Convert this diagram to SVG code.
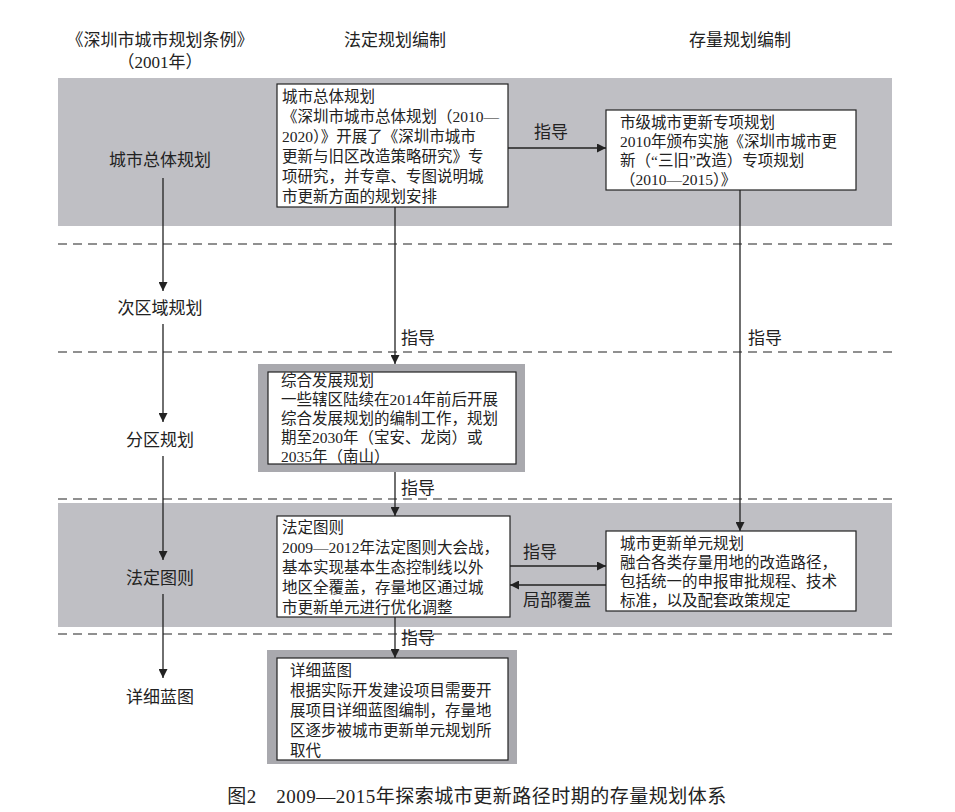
<svg xmlns="http://www.w3.org/2000/svg" width="955" height="812" viewBox="0 0 955 812">
<style>
text{font-family:"Liberation Serif","Noto Sans CJK SC",serif;fill:#222;font-size:15.5px}
.h{font-size:17px;text-anchor:middle}
.l{font-size:17px;text-anchor:middle}
.box{fill:#fff;stroke:#222;stroke-width:1.2}
.band{fill:#bfbfc4}
.dash{stroke:#222;stroke-width:1.2;stroke-dasharray:9,6}
.c{stroke:#222;stroke-width:1.3;fill:none;marker-end:url(#a)}
</style>
<defs><marker id="a" viewBox="0 0 10 10" refX="10" refY="5" markerWidth="9" markerHeight="9" orient="auto" markerUnits="userSpaceOnUse"><path d="M0,0L10,5L0,10z" fill="#222"/></marker></defs>
<rect width="955" height="812" fill="#fff"/>
<rect class="band" x="58" y="78" width="834" height="148"/>
<rect class="band" x="58" y="503" width="834" height="124"/>
<g>
<line class="dash" x1="58" y1="244" x2="892" y2="244"/>
<line class="dash" x1="58" y1="352" x2="892" y2="352"/>
<line class="dash" x1="58" y1="499" x2="892" y2="499"/>
<line class="dash" x1="58" y1="634" x2="892" y2="634"/>
</g>
<g id="headers">
<text class="h" x="160" y="46">《深圳市城市规划条例》</text>
<text class="h" x="160" y="68">（2001年）</text>
<text class="h" x="395" y="46">法定规划编制</text>
<text class="h" x="740" y="46">存量规划编制</text>
</g>
<g id="levels">
<text class="h" x="160" y="166">城市总体规划</text>
<text class="h" x="160" y="314">次区域规划</text>
<text class="h" x="160" y="446">分区规划</text>
<text class="h" x="160" y="584">法定图则</text>
<text class="h" x="160" y="703">详细蓝图</text>
</g>
<g id="box1"><rect class="box" x="277" y="84" width="231" height="123"/>
<text x="282" y="102">城市总体规划</text>
<text x="282" y="122">《深圳市城市总体规划（2010—</text>
<text x="282" y="142">2020）》开展了《深圳市城市</text>
<text x="282" y="162">更新与旧区改造策略研究》专</text>
<text x="282" y="182">项研究，并专章、专图说明城</text>
<text x="282" y="202">市更新方面的规划安排</text></g>
<g id="box2"><rect class="box" x="606" y="110" width="250" height="80"/>
<text x="620" y="128">市级城市更新专项规划</text>
<text x="620" y="147">2010年颁布实施《深圳市城市更</text>
<text x="620" y="166">新（“三旧”改造）专项规划</text>
<text x="620" y="185">（2010—2015）》</text></g>
<g id="box3"><rect x="258" y="364" width="267" height="108" fill="#a9a9ae"/><rect class="box" x="268" y="372" width="248" height="92"/>
<text x="281" y="386">综合发展规划</text>
<text x="281" y="405">一些辖区陆续在2014年前后开展</text>
<text x="281" y="424">综合发展规划的编制工作，规划</text>
<text x="281" y="443">期至2030年（宝安、龙岗）或</text>
<text x="281" y="462">2035年（南山）</text></g>
<g id="box4"><rect class="box" x="277" y="516" width="233" height="101"/>
<text x="282" y="533">法定图则</text>
<text x="282" y="553">2009—2012年法定图则大会战，</text>
<text x="282" y="573">基本实现基本生态控制线以外</text>
<text x="282" y="593">地区全覆盖，存量地区通过城</text>
<text x="282" y="613">市更新单元进行优化调整</text></g>
<g id="box5"><rect class="box" x="606" y="531" width="250" height="80"/>
<text x="620" y="549">城市更新单元规划</text>
<text x="620" y="568">融合各类存量用地的改造路径，</text>
<text x="620" y="587">包括统一的申报审批规程、技术</text>
<text x="620" y="606">标准，以及配套政策规定</text></g>
<g id="box6"><rect x="267" y="650" width="250" height="114" fill="#a9a9ae"/><rect class="box" x="277" y="658" width="231" height="102"/>
<text x="290" y="676">详细蓝图</text>
<text x="290" y="696">根据实际开发建设项目需要开</text>
<text x="290" y="716">展项目详细蓝图编制，存量地</text>
<text x="290" y="736">区逐步被城市更新单元规划所</text>
<text x="290" y="756">取代</text></g>
<g id="connectors">
<line class="c" x1="163" y1="178" x2="163" y2="291"/>
<line class="c" x1="163" y1="324" x2="163" y2="422"/>
<line class="c" x1="163" y1="456" x2="163" y2="560"/>
<line class="c" x1="163" y1="594" x2="163" y2="678"/>
<line class="c" x1="508" y1="148" x2="606" y2="148"/>
<line class="c" x1="395" y1="207" x2="395" y2="364"/>
<line class="c" x1="740" y1="190" x2="740" y2="531"/>
<line class="c" x1="395" y1="472" x2="395" y2="516"/>
<line class="c" x1="510" y1="566" x2="606" y2="566"/>
<line class="c" x1="606" y1="585" x2="510" y2="585"/>
<line class="c" x1="395" y1="617" x2="395" y2="658"/>
<text class="l" x="551" y="138">指导</text>
<text class="l" x="418" y="344">指导</text>
<text class="l" x="765" y="344">指导</text>
<text class="l" x="418" y="494">指导</text>
<text class="l" x="540" y="558">指导</text>
<text class="l" x="557" y="606">局部覆盖</text>
<text class="l" x="418" y="644">指导</text>
</g>
<text class="h" x="477" y="803" style="font-size:19px;letter-spacing:0.5px">图2　2009—2015年探索城市更新路径时期的存量规划体系</text>
</svg>
